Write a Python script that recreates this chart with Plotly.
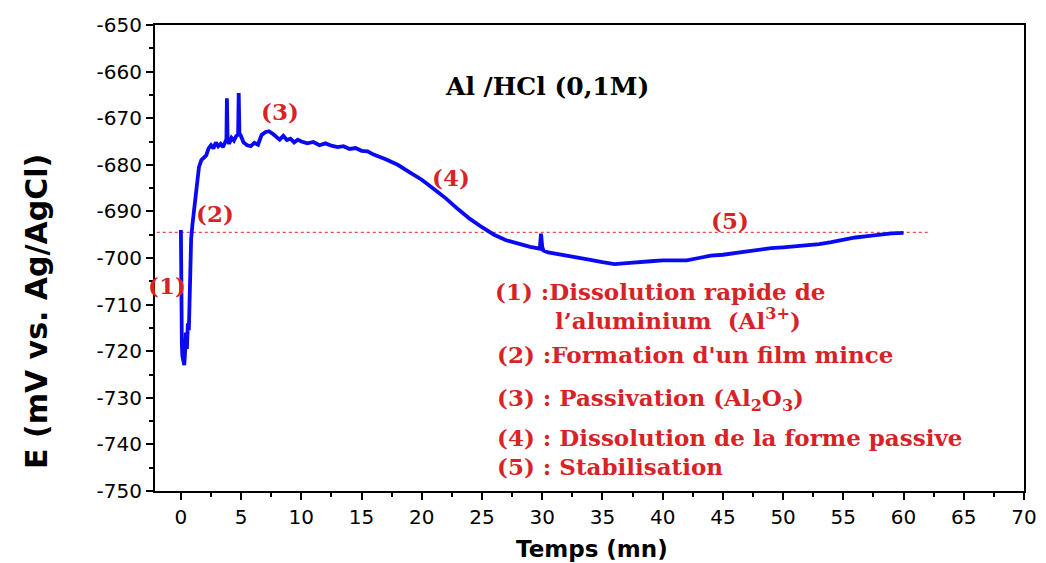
import plotly.graph_objects as go

# ---- data ----
t_min = [0.0, 0.02, 0.08, 0.12, 0.2, 0.28, 0.35, 0.42, 0.5, 0.58, 0.66, 0.72, 0.76, 0.85, 0.95, 1.1, 1.3, 1.5, 1.7,
         1.9, 2.1, 2.3, 2.5, 2.7, 2.9, 3.1, 3.3, 3.5, 3.7, 3.78, 3.82, 3.88, 4.0, 4.2, 4.4, 4.6, 4.75, 4.8, 4.86, 4.95,
         5.2, 5.5, 5.8, 6.1, 6.4, 6.7, 7.0, 7.3, 7.6, 7.9, 8.2, 8.5, 8.8, 9.1, 9.4, 9.7, 10.0, 10.5, 11.0, 11.5, 12.0,
         12.5, 13.0, 13.5, 14.0, 14.5, 15.0, 15.5, 16.0, 17.0, 18.0, 19.0, 20.0, 21.0, 22.0, 23.0, 24.0, 25.0, 26.0,
         27.0, 28.0, 29.0, 29.8, 29.9, 30.0, 30.1, 30.5, 31.0, 32.0, 33.0, 34.0, 35.0, 36.0, 37.0, 38.0, 39.0, 40.0,
         41.0, 42.0, 43.0, 44.0, 45.0, 46.0, 47.0, 48.0, 49.0, 50.0, 51.0, 52.0, 53.0, 54.0, 55.0, 56.0, 57.0, 58.0,
         59.0, 60.0]
E_mV = [-694.0, -718.0, -718.5, -721.0, -722.5, -723.0, -720.0, -716.0, -719.5, -714.0, -715.5, -706.0, -699.5,
        -696.0, -693.0, -689.5, -684.5, -680.5, -679.0, -678.5, -678.0, -676.5, -675.8, -676.5, -675.2, -676.0,
        -675.5, -676.2, -675.0, -674.5, -665.7, -674.8, -675.5, -674.2, -674.8, -673.8, -673.5, -664.6, -673.4,
        -673.6, -675.2, -675.8, -676.0, -675.3, -675.7, -673.6, -673.0, -672.8, -673.3, -673.9, -674.6, -673.8,
        -674.7, -674.4, -675.2, -674.6, -675.0, -675.4, -675.1, -675.8, -675.4, -675.9, -676.2, -676.0, -676.6,
        -676.4, -677.0, -677.1, -677.8, -678.8, -680.0, -681.6, -683.2, -685.2, -687.2, -689.5, -691.6, -693.4,
        -695.0, -696.2, -697.0, -697.6, -698.0, -694.8, -697.6, -698.4, -698.8, -699.0, -699.6, -700.0, -700.4,
        -700.9, -701.3, -701.1, -700.8, -700.7, -700.5, -700.4, -700.5, -700.0, -699.5, -699.3, -698.9, -698.6,
        -698.2, -697.9, -697.7, -697.5, -697.3, -697.0, -696.6, -696.0, -695.6, -695.3, -694.9, -694.7, -694.6]

ref_x = [-2.5, 62.0]
ref_E = [-694.5, -694.5]

x_ticks = list(range(0, 75, 5))
x_labels = [str(v) for v in x_ticks]
y_ticks = list(range(-750, -645, 10))
y_labels = ["-%d" % (-v) for v in y_ticks]

RED = "rgb(215,35,40)"
SERIF = "DejaVu Serif"
SANS = "DejaVu Sans"

L, R, T, B = 155, 1024, 25, 491


def px_x(px):
    return (px - L) / (R - L)


def px_y(py):
    return (B - py) / (B - T)


fig = go.Figure()
fig.add_trace(go.Scatter(x=ref_x, y=ref_E, mode="lines",
                         line=dict(color="rgb(225,80,80)", width=1.2, dash="dot"), showlegend=False))
fig.add_trace(go.Scatter(x=t_min, y=E_mV, mode="lines",
                         line=dict(color="rgb(10,10,240)", width=3.8), showlegend=False))

phase_labels = [("(1)", -1.15, -706.0), ("(2)", 2.8, -690.5), ("(3)", 8.2, -668.5),
                ("(4)", 22.4, -682.8), ("(5)", 45.6, -692.0)]
for txt, x, y in phase_labels:
    fig.add_annotation(x=x, y=y, text="<b>" + txt + "</b>", showarrow=False,
                       font=dict(family=SERIF, size=23, color=RED), xanchor="center")

fig.add_annotation(xref="paper", yref="paper", x=px_x(547), y=px_y(70), text="<b>Al /HCl (0,1M)</b>",
                   showarrow=False, font=dict(family=SERIF, size=25, color="black"))

legend_lines = [
    ("(1) :Dissolution rapide de", 493, 291),
    ("l\u2019aluminium  (Al<sup>3+</sup>)", 553, 319),
    ("(2) :Formation d'un film mince", 495, 354),
    ("(3) : Passivation (Al<sub>2</sub>O<sub>3</sub>)", 495, 399),
    ("(4) : Dissolution de la forme passive", 495, 437),
    ("(5) : Stabilisation", 495, 466),
]
for txt, px, py in legend_lines:
    fig.add_annotation(xref="paper", yref="paper", x=px_x(px), y=px_y(py), text="<b>" + txt + "</b>",
                       showarrow=False, xanchor="left", yanchor="middle",
                       font=dict(family=SERIF, size=23, color=RED))

# axis titles placed as in the reference
fig.add_annotation(xref="paper", yref="paper", x=px_x(36), y=px_y(312),
                   text="<b>E (mV vs. Ag/AgCl)</b>", textangle=-90, showarrow=False,
                   xanchor="center", yanchor="middle", font=dict(family=SANS, size=30, color="black"))
fig.add_annotation(xref="paper", yref="paper", x=px_x(592), y=px_y(549),
                   text="<b>Temps (mn)</b>", showarrow=False,
                   xanchor="center", yanchor="middle", font=dict(family=SANS, size=23, color="black"))

axis_common = dict(showline=True, linecolor="black", linewidth=2, mirror=True, ticks="outside",
                   tickcolor="black", tickwidth=2, ticklen=7, showgrid=False, zeroline=False,
                   tickfont=dict(family=SANS, size=20, color="black"),
                   minor=dict(ticks="outside", ticklen=4, tickwidth=2, tickcolor="black", showgrid=False))

fig.update_xaxes(range=[-2.15, 70], tickvals=x_ticks, ticktext=x_labels, minor_dtick=2.5, minor_tick0=0,
                 automargin=False, **axis_common)
fig.update_yaxes(range=[-750, -650], tickvals=y_ticks, ticktext=y_labels, minor_dtick=5, minor_tick0=-750,
                 automargin=False, **axis_common)

fig.update_layout(width=1046, height=563, margin=dict(l=L, r=1046 - R, t=T, b=563 - B),
                  plot_bgcolor="white", paper_bgcolor="white")

fig.write_html("out.html")
